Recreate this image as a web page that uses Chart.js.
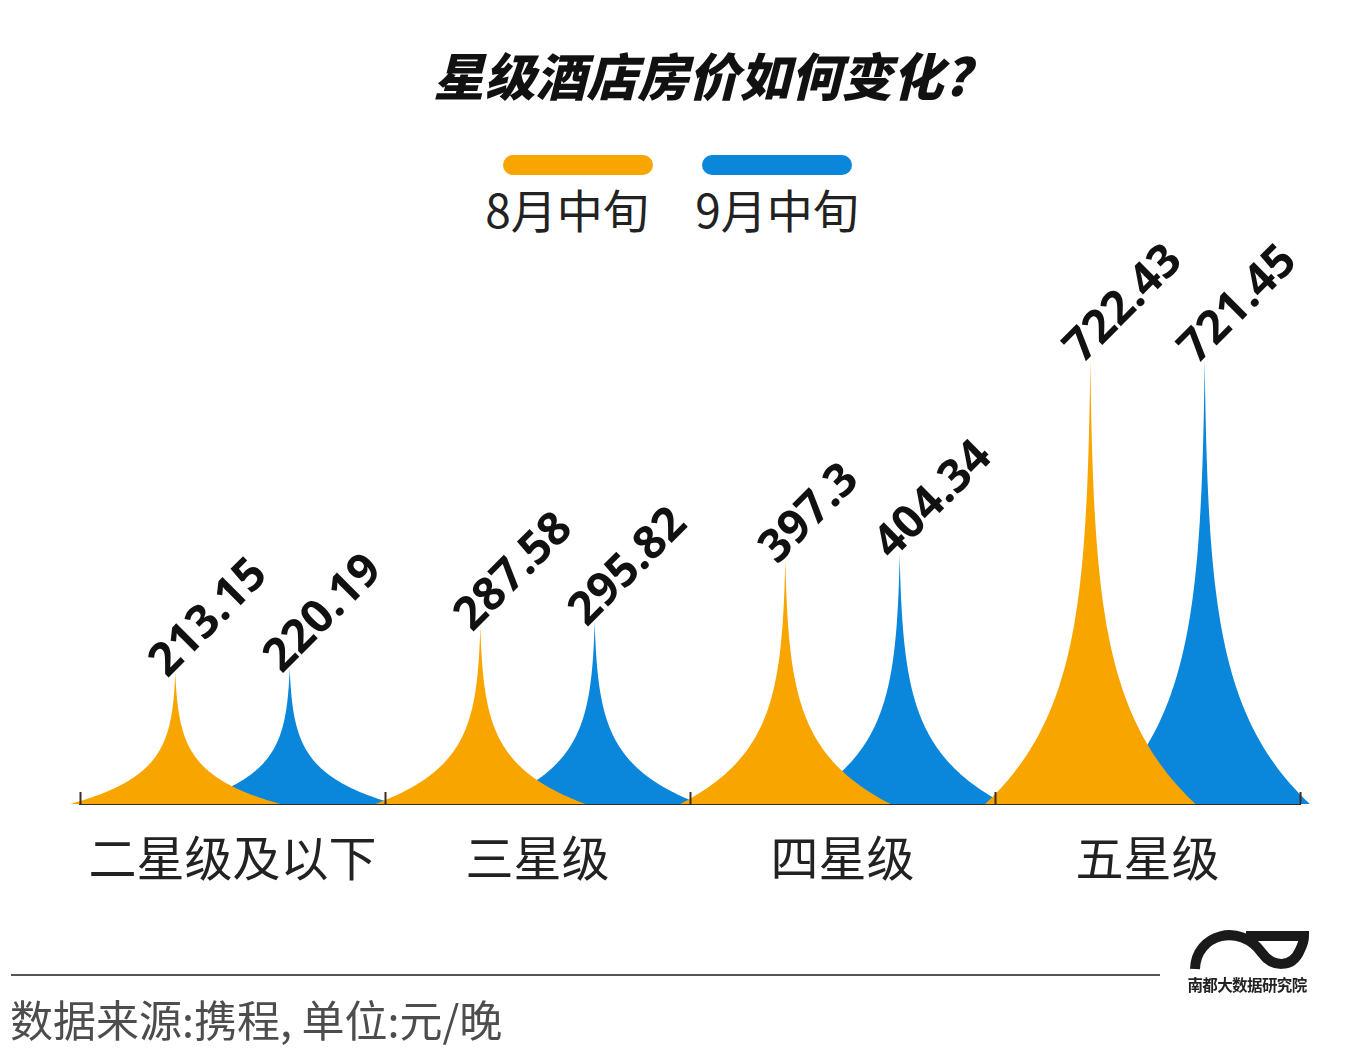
<!DOCTYPE html>
<html>
<head>
<meta charset="utf-8">
<script src="https://cdn.jsdelivr.net/npm/chart.js@4.4.1/dist/chart.umd.min.js"></script>
<style>
  html, body { margin: 0; padding: 0; background: #fff; }
  body {
    width: 1364px; height: 1064px; position: relative; overflow: hidden;
    font-family: "Noto Sans CJK SC", "Noto Sans", sans-serif;
  }
  #chartBox { position: absolute; left: 0; top: 0; width: 1364px; height: 1064px; }
  .title {
    position: absolute; left: 20px; width: 1364px; top: 44px;
    text-align: center; font-size: 51px; line-height: 60px;
    font-weight: 900; font-style: italic; color: #111;
  }
  .legend-item { position: absolute; top: 155px; width: 200px; text-align: center; }
  .legend-bar { width: 150px; height: 20px; border-radius: 10px; position: relative; left: 25px; }
  .legend-text { font-size: 46px; line-height: 50px; color: #222; margin-top: 8px; }
  .footer-line { position: absolute; left: 11px; top: 974px; width: 1149px; height: 2px; background: #555; }
  .source {
    position: absolute; left: 10px; top: 990px; font-size: 43px; line-height: 56px; color: #4d4d4d;
  }
  .logo { position: absolute; left: 1184px; top: 926px; width: 126px; height: 72px; }
  .logo-text {
    position: absolute; left: 1186px; top: 973px; width: 122px; text-align: center;
    font-size: 15.5px; font-weight: 700; color: #222; letter-spacing: -0.6px; white-space: nowrap;
  }
</style>
</head>
<body>
<div class="title">星级酒店房价如何变化?</div>
<div id="legend"></div>
<div id="chartBox"><canvas id="spikeChart" width="1364" height="1064"></canvas></div>
<div class="footer-line"></div>
<div class="source">数据来源:携程, 单位:元/晚</div>
<svg class="logo" viewBox="1184 926 126 72">
  <path d="M1195,969 C1196,934 1240,922 1262,953 C1272,967 1292,969 1300,950 C1303,944 1304,940 1304,936 L1246,936"
        fill="none" stroke="#1a1a1a" stroke-width="10" stroke-linecap="butt"/>
</svg>
<div class="logo-text">南都大数据研究院</div>

<script>
// ---- Data ----
const categories = ['二星级及以下', '三星级', '四星级', '五星级'];
const seriesNames = ['8月中旬', '9月中旬'];
const augValues = [213.15, 287.58, 397.3, 722.43];
const sepValues = [220.19, 295.82, 404.34, 721.45];

// ---- Styles ----
const ORANGE = '#F8A500';
const BLUE = '#0A86DA';
const AXIS_COLOR = '#3a2e24';

// ---- Legend (built from the series names) ----
const legendEl = document.getElementById('legend');
const legendLefts = [467, 677];
const legendBarShift = [36, 25];
[ORANGE, BLUE].forEach((color, i) => {
  const item = document.createElement('div');
  item.className = 'legend-item';
  item.style.left = legendLefts[i] + 'px';
  item.innerHTML =
    `<div class="legend-bar" style="background:${color};left:${legendBarShift[i]}px"></div>` +
    `<div class="legend-text">${seriesNames[i]}</div>`;
  legendEl.appendChild(item);
});

// ---- Spike shape drawn from each bar element ----
// half width shrinks exponentially with height: flat tails, needle tip
function spikeWidth(s) {
  const a = 4.5;
  return (Math.exp(-a * s) - Math.exp(-a)) / (1 - Math.exp(-a));
}

function drawSpike(ctx, el, color) {
  const hw = el.width * 0.92;
  const x = el.x;
  const base = el.base;
  const h = base - el.y;
  const steps = 160;
  ctx.beginPath();
  ctx.moveTo(x - hw, base);
  for (let i = 1; i <= steps; i++) {
    const s = i / steps;
    ctx.lineTo(x - hw * spikeWidth(s), base - s * h);
  }
  for (let i = steps - 1; i >= 0; i--) {
    const s = i / steps;
    ctx.lineTo(x + hw * spikeWidth(s), base - s * h);
  }
  ctx.closePath();
  ctx.fillStyle = color;
  ctx.fill();
}

const spikePlugin = {
  id: 'spikes',
  beforeDatasetsDraw(chart) {
    const ctx = chart.ctx;
    ctx.save();
    // blue underneath, orange on top
    for (let d = chart.data.datasets.length - 1; d >= 0; d--) {
      const meta = chart.getDatasetMeta(d);
      const color = chart.data.datasets[d].spikeColor;
      meta.data.forEach((el) => drawSpike(ctx, el, color));
    }
    // value labels
    ctx.fillStyle = '#111';
    ctx.font = 'bold 46px "Noto Sans", "Open Sans", sans-serif';
    ctx.textAlign = 'left';
    ctx.textBaseline = 'alphabetic';
    chart.data.datasets.forEach((ds, d) => {
      chart.getDatasetMeta(d).data.forEach((el, i) => {
        ctx.save();
        ctx.translate(el.x - 8, el.y + 6);
        ctx.rotate(-Math.PI / 4);
        ctx.fillText(String(ds.data[i]), 0, 0);
        ctx.restore();
      });
    });
    ctx.restore();
    return false;
  },
  afterDraw(chart) {
    // small upward ticks at category boundaries
    const xs = chart.scales.x;
    const ctx = chart.ctx;
    const bottom = chart.chartArea.bottom;
    ctx.save();
    ctx.strokeStyle = AXIS_COLOR;
    ctx.lineWidth = 2;
    for (let i = 0; i <= categories.length; i++) {
      const px = Math.round(xs.getPixelForValue(i - 0.5)) + 0.5;
      ctx.beginPath();
      ctx.moveTo(px, bottom - 12);
      ctx.lineTo(px, bottom);
      ctx.stroke();
    }
    ctx.restore();
  },
};

new Chart(document.getElementById('spikeChart').getContext('2d'), {
  type: 'bar',
  data: {
    labels: categories,
    datasets: [
      { label: seriesNames[0], data: augValues, spikeColor: ORANGE, backgroundColor: ORANGE },
      { label: seriesNames[1], data: sepValues, spikeColor: BLUE, backgroundColor: BLUE },
    ],
  },
  options: {
    responsive: false,
    animation: false,
    categoryPercentage: 0.75,
    barPercentage: 1,
    layout: { padding: { left: 80, right: 64, top: 311, bottom: 0 } },
    plugins: {
      legend: { display: false },
      tooltip: { enabled: false },
    },
    scales: {
      x: {
        grid: { display: false, drawTicks: false },
        border: { display: true, color: AXIS_COLOR, width: 2 },
        ticks: {
          color: '#222',
          padding: 25,
          font: { family: '"Noto Sans CJK SC", sans-serif', size: 48 },
          maxRotation: 0,
          autoSkip: false,
        },
        afterFit(scale) { scale.height = 1064 - 804; },
      },
      y: {
        display: false,
        min: 0,
        max: 800,
      },
    },
  },
  plugins: [spikePlugin],
});
</script>
</body>
</html>
